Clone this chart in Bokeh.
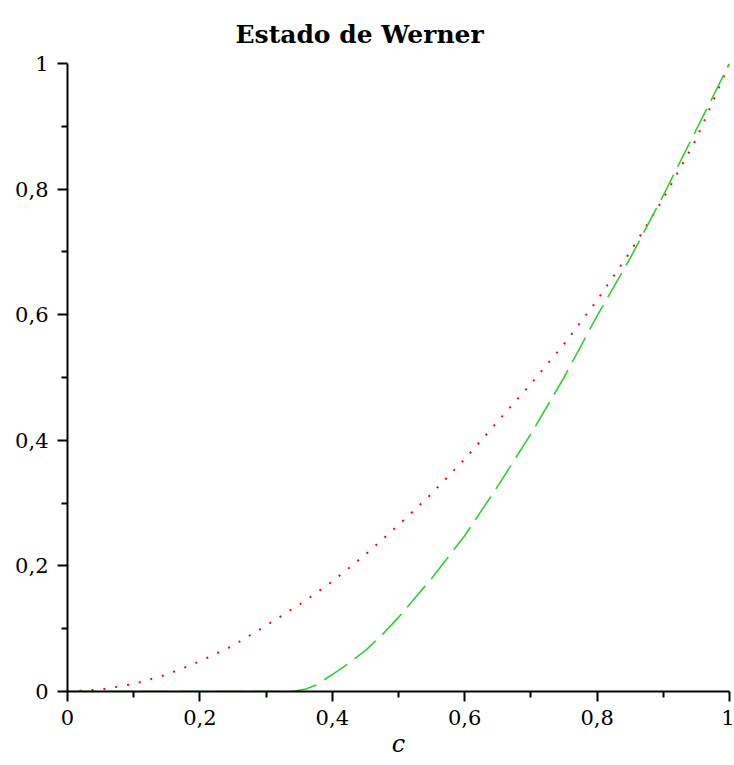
from bokeh.plotting import figure
from bokeh.models import Range1d, FixedTicker
from bokeh.embed import file_html
from bokeh.resources import INLINE

# Data
c_red = [0.0, 0.05, 0.1, 0.15, 0.2, 0.25, 0.3, 0.35, 0.4, 0.45, 0.5, 0.55, 0.6,
         0.65, 0.7, 0.75, 0.8, 0.85, 0.9, 0.95, 1.0]
red_vals = [0.0, 0.003, 0.012, 0.027, 0.048, 0.073, 0.105, 0.138, 0.175, 0.218,
            0.265, 0.315, 0.37, 0.43, 0.49, 0.553, 0.623, 0.70, 0.785, 0.88, 1.0]

c_green = [0.0, 0.1, 0.2, 0.3, 0.34, 0.36, 0.375, 0.4, 0.425, 0.45, 0.475, 0.5,
           0.55, 0.6, 0.65, 0.7, 0.75, 0.8, 0.85, 0.9, 0.95, 1.0]
green_vals = [0.0, 0.0, 0.0, 0.0, 0.0, 0.004, 0.01, 0.027, 0.045, 0.065, 0.09, 0.118,
              0.18, 0.248, 0.327, 0.41, 0.5, 0.598, 0.69, 0.79, 0.895, 1.0]

major_ticks = [0.0, 0.2, 0.4, 0.6, 0.8, 1.0]
minor_ticks = [0.1, 0.3, 0.5, 0.7, 0.9]
tick_labels = ["0", "0,2", "0,4", "0,6", "0,8", "1"]

FONT = "DejaVu Serif"

p = figure(width=734, height=760, output_backend="svg", toolbar_location=None,
           x_range=Range1d(0, 1), y_range=Range1d(0, 1),
           min_border_left=67, min_border_right=5, min_border_top=63, min_border_bottom=69,
           title="Estado de Werner")
p.outline_line_color = None
p.grid.grid_line_color = None

p.title.text_font = FONT
p.title.text_font_size = "25px"
p.title.text_font_style = "bold"
p.title.align = "left"
p.title.offset = 168
p.title.standoff = 30
p.title.text_color = "black"

for ax in (p.xaxis[0], p.yaxis[0]):
    ax.ticker = FixedTicker(ticks=major_ticks, minor_ticks=minor_ticks)
    ax.major_label_overrides = {t: l for t, l in zip(major_ticks, tick_labels)}
    ax.major_label_text_font = FONT
    ax.major_label_text_font_size = "21px"
    ax.major_label_text_color = "black"
    ax.axis_line_width = 2
    ax.axis_line_color = "black"
    ax.major_tick_line_width = 2
    ax.major_tick_line_color = "black"
    ax.minor_tick_line_width = 2
    ax.minor_tick_line_color = "black"
    ax.major_tick_in = 0
    ax.major_tick_out = 10
    ax.minor_tick_in = 0
    ax.minor_tick_out = 6

p.yaxis.major_label_standoff = 9
p.xaxis.major_label_standoff = 8

p.xaxis.axis_label = "c"
p.xaxis.axis_label_text_font = FONT
p.xaxis.axis_label_text_font_style = "italic"
p.xaxis.axis_label_text_font_size = "24px"
p.xaxis.axis_label_text_color = "black"
p.xaxis.axis_label_standoff = 2

p.line(c_red, red_vals, line_color="#ff0000", line_width=2, line_dash="2 10")
p.line(c_green, green_vals, line_color="#33cc33", line_width=1.6, line_dash="28 9")

open("out.html", "w").write(file_html(p, INLINE))
